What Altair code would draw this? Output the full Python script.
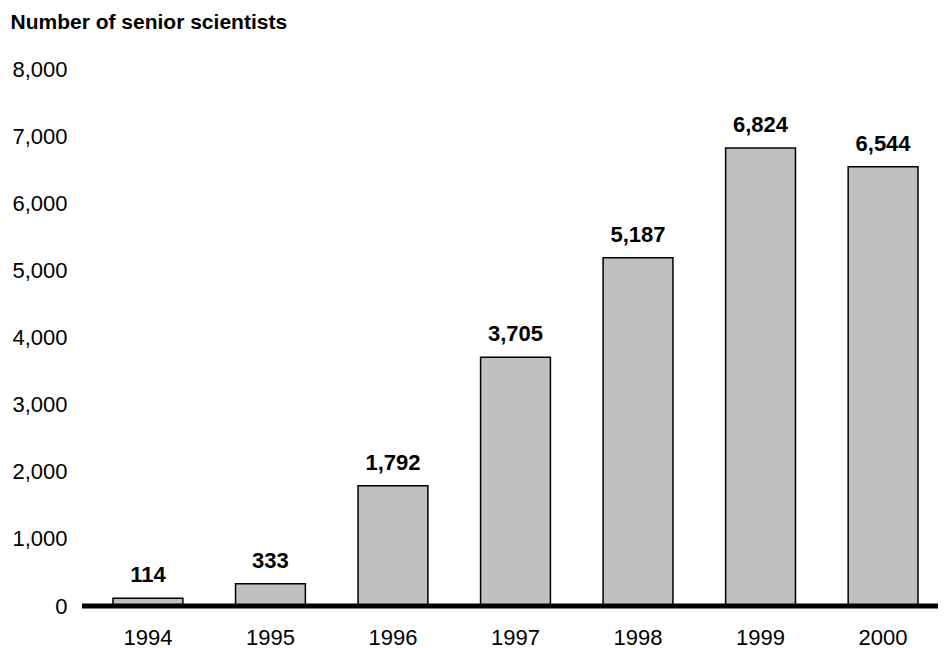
import altair as alt
import pandas as pd

years = ["1994", "1995", "1996", "1997", "1998", "1999", "2000"]
values = [114, 333, 1792, 3705, 5187, 6824, 6544]
y_ticks = [0, 1000, 2000, 3000, 4000, 5000, 6000, 7000, 8000]

df = pd.DataFrame({"year": years, "value": values})
FONT = "Liberation Sans"

x = alt.X("year:N", sort=years, title=None,
          scale=alt.Scale(paddingInner=0.43, paddingOuter=0.098),
          axis=alt.Axis(labelAngle=0, ticks=False, domain=False, labelPadding=21,
                        labelFontSize=22, labelFont=FONT, labelColor="black"))
y = alt.Y("value:Q", title="Number of senior scientists",
          scale=alt.Scale(domain=[0, 8000], nice=False),
          axis=alt.Axis(values=y_ticks, format=",.0f", grid=False, ticks=False, domain=False,
                        labelPadding=34, labelFontSize=22, labelFont=FONT, labelColor="black",
                        titleAngle=0, titleAlign="left", titleBaseline="middle",
                        titleX=-91, titleY=-47, titleFont=FONT, titleFontSize=21,
                        titleFontWeight="bold", titleColor="black"))

base = alt.Chart(df)
bars = base.mark_bar(color="#c0c0c0", stroke="black", strokeWidth=1.5).encode(x=x, y=y)
labels = base.mark_text(baseline="bottom", dy=-11, font=FONT, fontSize=22,
                        fontWeight="bold", color="black").encode(
    x=alt.X("year:N", sort=years), y="value:Q", text=alt.Text("value:Q", format=",.0f"))
baseline = alt.Chart(pd.DataFrame({"v": [0]})).mark_rule(color="black", strokeWidth=5).encode(
    y="v:Q", x=alt.value(-19), x2=alt.value(840))

chart = (bars + labels + baseline).properties(
    width=829, height=537,
    autosize=alt.AutoSizeParams(type="none"),
    padding={"left": 93, "top": 61, "right": 8, "bottom": 46},
).configure_view(stroke=None)

chart.save("out.html", embed_options={"renderer": "svg", "actions": False})
